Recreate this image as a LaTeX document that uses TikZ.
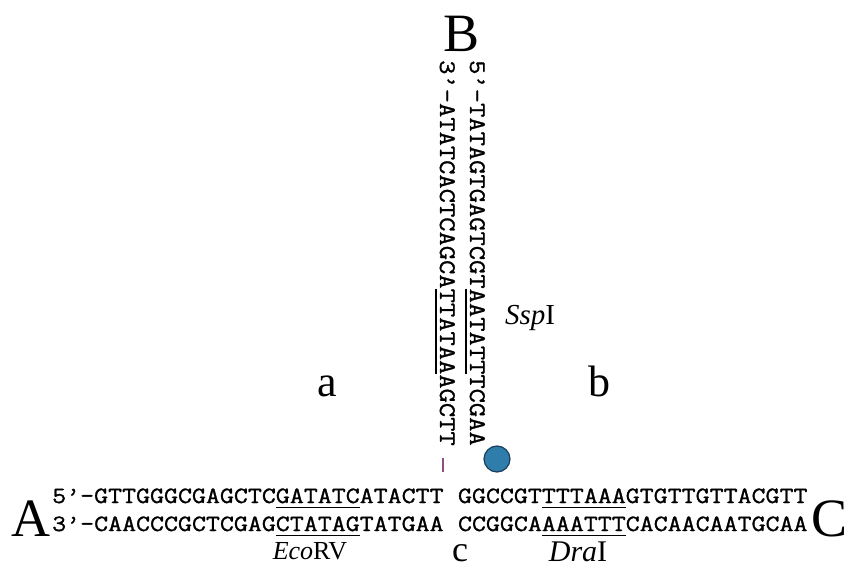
\documentclass[tikz,border=0pt]{standalone}
\usepackage{fontspec}
\setmainfont{Liberation Serif}
\setmonofont[FakeStretch=1.165,FakeBold=1.2]{Latin Modern Mono}
\usetikzlibrary{positioning}

\definecolor{beadblue}{RGB}{46,125,170}
\definecolor{beadrim}{RGB}{28,62,92}
\definecolor{tickmark}{RGB}{140,80,130}

% restriction site: text with a rule under it
\newcommand\site[1]{\setbox0\hbox{#1}\rlap{\rule[-4.8pt]{\wd0}{1.3pt}}\box0}

\begin{document}
\begin{tikzpicture}[x=1pt,y=-1pt,
  seq/.style={font=\ttfamily\fontsize{23.3}{24}\selectfont,inner sep=0pt},
  seqv/.style={font=\ttfamily\fontsize{23.8}{24}\selectfont,inner sep=0pt,rotate=-90},
  arm/.style={font=\fontsize{54}{56}\selectfont,inner sep=0pt},
  part/.style={font=\fontsize{44}{46}\selectfont,inner sep=0pt},
  enz/.style={inner sep=0pt}]
  \fill[white] (0,0) rectangle (851,569);
  \useasboundingbox (0,0) rectangle (851,569);

  % arms A and C, both strands
  \node[seq,anchor=base west] (A5) at (52,503) {5’-GTTGGGCGAGCTC\site{GATATC}ATACTT};
  \node[seq,anchor=base west,xshift=14pt] (C5) at (A5.base east) {GGCCGT\site{TTTAAA}GTGTTGTTACGTT};
  \node[seq,anchor=base west] (A3) at (52,531) {3’-CAACCCGCTCGAG\site{CTATAG}TATGAA};
  \node[seq,anchor=base west,xshift=14pt] (C3) at (A3.base east) {CCGGCA\site{AAATTT}CACAACAATGCAA};

  % arm B, read downwards
  \node[seqv,anchor=base west] (B5) at (470,60) {5’-TATAGTGAGTCGT\site{AATATT}TCGAA};
  \node[seqv,anchor=base west] (B3) at (440,60) {3’-ATATCACTCAGCA\site{TTATAA}AGCTT};

  % arm names
  \node[arm] (A) at (31,519) {A};
  \node[arm] (B) at (462,34) {B};
  \node[arm] (C) at (829,519) {C};

  % parts of the junction
  \node[part] (a) at (327,386) {a};
  \node[part] (b) at (599,381) {b};
  \node[part,font=\fontsize{36}{38}\selectfont] (c) at (460,553) {c};

  % enzymes
  \node[enz,font=\fontsize{26}{27}\selectfont] (ecorv) at (310,551) {\textit{Eco}RV};
  \node[enz,font=\fontsize{30}{31}\selectfont] (drai) at (578,552) {\textit{Dra}I};
  \node[enz,font=\fontsize{29}{30}\selectfont] (sspi) at (530,318) {\textit{Ssp}I};

  % label bead and nick
  \node[circle,fill=beadblue,draw=beadrim,line width=1.2pt,minimum size=26pt,inner sep=0pt] (bead) at (497,459) {};
  \draw[tickmark,line width=1.4pt] (443,458) -- (443,472);
\end{tikzpicture}
\end{document}
